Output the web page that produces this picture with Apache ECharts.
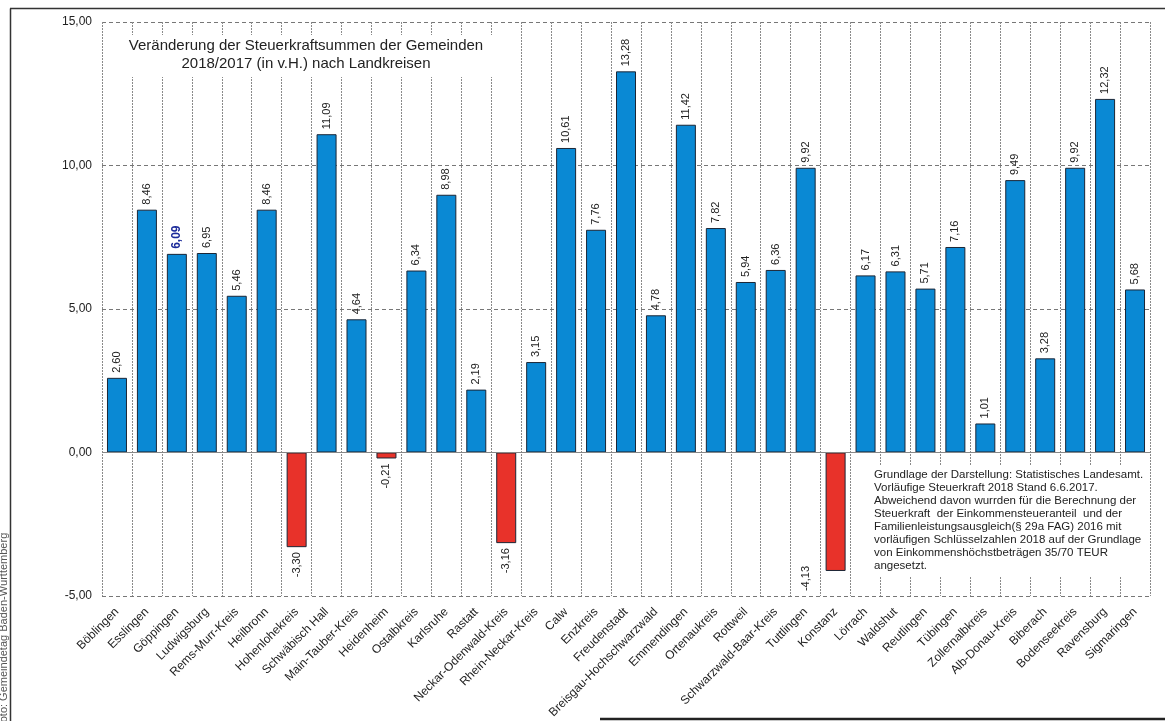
<!DOCTYPE html>
<html>
<head>
<meta charset="utf-8">
<script src="https://cdn.jsdelivr.net/npm/echarts@6/dist/echarts.min.js"></script>
<style>
html,body{margin:0;padding:0;background:#fff;}
#c{width:1165px;height:721px;}
</style>
</head>
<body>
<div id="c"></div>
<script>
const categories = ['Böblingen','Esslingen','Göppingen','Ludwigsburg','Rems-Murr-Kreis','Heilbronn','Hohenlohekreis','Schwäbisch Hall','Main-Tauber-Kreis','Heidenheim','Ostalbkreis','Karlsruhe','Rastatt','Neckar-Odenwald-Kreis','Rhein-Neckar-Kreis','Calw','Enzkreis','Freudenstadt','Breisgau-Hochschwarzwald','Emmendingen','Ortenaukreis','Rottweil','Schwarzwald-Baar-Kreis','Tuttlingen','Konstanz','Lörrach','Waldshut','Reutlingen','Tübingen','Zollernalbkreis','Alb-Donau-Kreis','Biberach','Bodenseekreis','Ravensburg','Sigmaringen'];
const values = [2.60,8.46,6.92,6.95,5.46,8.46,-3.30,11.09,4.64,-0.21,6.34,8.98,2.19,-3.16,3.15,10.61,7.76,13.28,4.78,11.42,7.82,5.94,6.36,9.92,-4.13,6.17,6.31,5.71,7.16,1.01,9.49,3.28,9.92,12.32,5.68];
// handwritten correction shown next to the Göppingen bar
const labelOverrides = {'Göppingen':'6,09'};
const yTicks = {min:-5, max:15, interval:5};
const titleText = 'Veränderung der Steuerkraftsummen der Gemeinden\n2018/2017 (in v.H.) nach Landkreisen';
const noteLines = [
  'Grundlage der Darstellung: Statistisches Landesamt.',
  'Vorläufige Steuerkraft 2018 Stand 6.6.2017.',
  'Abweichend davon wurrden für die Berechnung der',
  'Steuerkraft  der Einkommensteueranteil  und der',
  'Familienleistungsausgleich(§ 29a FAG) 2016 mit',
  'vorläufigen Schlüsselzahlen 2018 auf der Grundlage',
  'von Einkommenshöchstbeträgen 35/70 TEUR',
  'angesetzt.'
];
const sourceText = 'Foto: Gemeindetag Baden-Württemberg';

const FONT = '"Liberation Sans", Arial, sans-serif';
const fmt = v => v.toFixed(2).replace('.', ',');

const seriesData = values.map((v, i) => {
  const name = categories[i];
  const item = {
    value: v,
    itemStyle: { color: v < 0 ? '#e8322a' : '#0a89d4' },
    label: v < 0
      ? { position: 'bottom', align: 'right', distance: 5 }
      : { position: 'top', align: 'left', distance: 5 }
  };
  if (labelOverrides[name]) {
    item.label.formatter = labelOverrides[name];
    item.label.color = '#1b2a9a';
    item.label.fontWeight = 'bold';
    item.label.fontSize = 12;
  }
  if (name === 'Konstanz') {
    item.label.offset = [10, -30];
  }
  return item;
});

const chart = echarts.init(document.getElementById('c'), null, {renderer: 'canvas'});
chart.setOption({
  backgroundColor: '#fff',
  animation: false,
  textStyle: { fontFamily: FONT },
  grid: { left: 102, right: 15, top: 22, bottom: 125 },
  xAxis: {
    type: 'category',
    data: categories,
    position: 'bottom',
    axisLine: { show: false, onZero: false },
    axisTick: { show: false },
    splitLine: { show: true, lineStyle: { color: '#8a8a8a', type: [2, 1], width: 1 } },
    axisLabel: { rotate: 45, interval: 0, color: '#222', fontSize: 12, margin: 14, fontFamily: FONT }
  },
  yAxis: {
    type: 'value',
    min: yTicks.min, max: yTicks.max, interval: yTicks.interval,
    axisLine: { show: false },
    axisTick: { show: false },
    splitLine: { show: true, lineStyle: { color: '#777', type: [4, 3], width: 1 } },
    axisLabel: { formatter: v => fmt(v), color: '#222', fontSize: 12, margin: 10, fontFamily: FONT }
  },
  series: [{
    type: 'bar',
    data: seriesData,
    barWidth: 20,
    itemStyle: { borderColor: '#1b2636', borderWidth: 1 },
    label: {
      show: true,
      rotate: 90,
      verticalAlign: 'middle',
      color: '#222',
      fontSize: 11,
      fontFamily: FONT,
      formatter: p => fmt(p.value)
    },
    markLine: {
      silent: true,
      symbol: 'none',
      label: { show: false },
      lineStyle: { color: '#888', type: 'solid', width: 1 },
      data: [{ yAxis: 0 }]
    },
    z: 3
  }],
  graphic: [
    {
      type: 'text', z: 100,
      style: {
        text: titleText, x: 306, y: 35, align: 'center', verticalAlign: 'top',
        font: '15px ' + FONT, fill: '#222', lineHeight: 18,
        backgroundColor: '#fff', padding: [2, 10, 4, 10]
      }
    },
    {
      type: 'rect', z: 100,
      shape: { x: 858, y: 466, width: 289, height: 111 },
      style: { fill: '#fff' }
    },
    {
      type: 'text', z: 101,
      style: {
        text: noteLines.join('\n'), x: 874, y: 468, align: 'left', verticalAlign: 'top',
        font: '11.5px ' + FONT, fill: '#222', lineHeight: 13
      }
    },
    {
      type: 'line', z: 100,
      shape: { x1: 10, y1: 8.5, x2: 1165, y2: 8.5 },
      style: { stroke: '#333', lineWidth: 1.5 }
    },
    {
      type: 'line', z: 100,
      shape: { x1: 10.5, y1: 8.5, x2: 10.5, y2: 721 },
      style: { stroke: '#333', lineWidth: 1.5 }
    },
    {
      type: 'line', z: 100,
      shape: { x1: 600, y1: 719, x2: 1165, y2: 719 },
      style: { stroke: '#222', lineWidth: 2.5 }
    },
    {
      type: 'text', z: 100,
      x: 4, y: 729, rotation: Math.PI / 2,
      style: {
        text: sourceText, x: 0, y: 0, align: 'left', verticalAlign: 'middle',
        font: '11px ' + FONT, fill: '#555'
      }
    }
  ]
});
</script>
</body>
</html>
